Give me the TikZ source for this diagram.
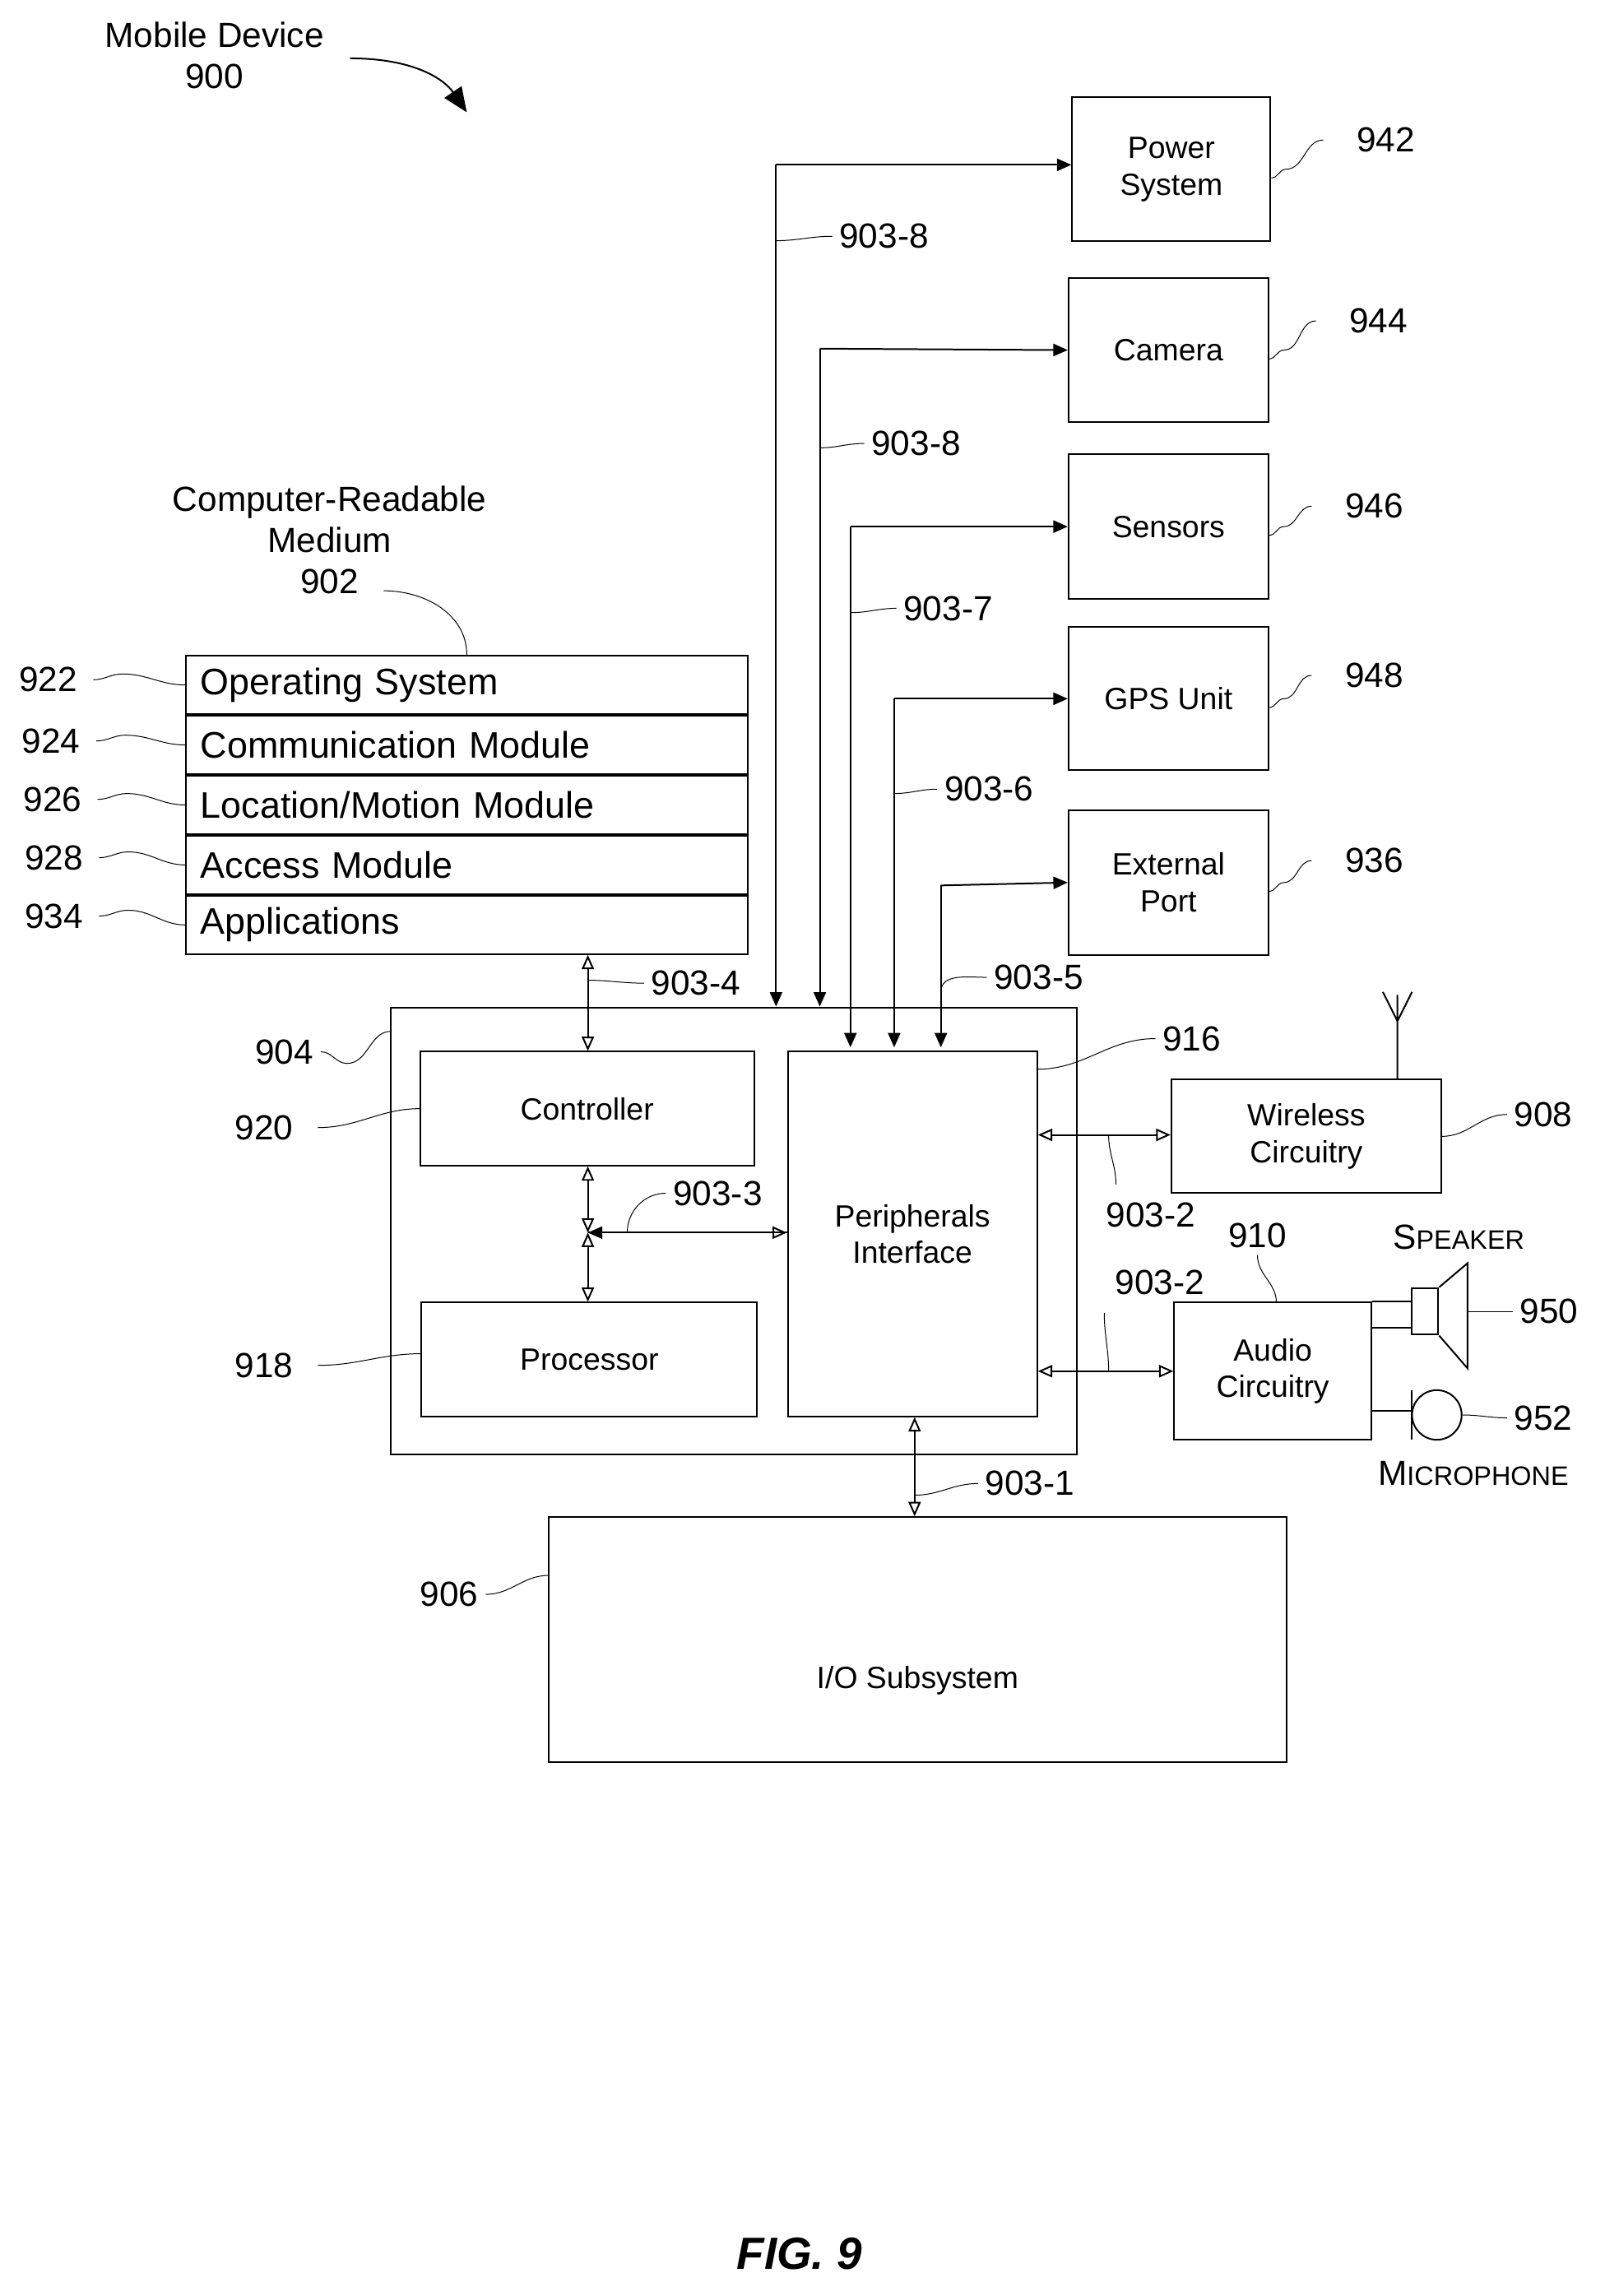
\documentclass[tikz,border=0pt]{standalone}
\usepackage{fontspec}
\setmainfont{Liberation Sans}
\usetikzlibrary{arrows.meta,positioning}
\newcommand{\pu}{0.25mm}
\tikzset{
  box/.style={draw, thick, inner sep=0pt, align=center, font=\fontsize{15}{18}\selectfont},
  row/.style={draw, thick, inner xsep=10*\pu, inner ysep=0pt, text width=365*\pu, align=left, minimum height=40*\pu, anchor=north west, font=\fontsize{18}{20}\selectfont},
  num/.style={font=\fontsize{17}{20}\selectfont, align=center},
  lead/.style={thin},
  bus/.style={thick},
  oa/.style={-{Triangle[open,length=7pt,width=6pt]}},
  boa/.style={{Triangle[open,length=7pt,width=6pt]}-{Triangle[open,length=7pt,width=6pt]}},
  fa/.style={-{Triangle[length=7pt,width=6pt]}}
}
\begin{document}
\begin{tikzpicture}[x=\pu,y=-\pu]
\useasboundingbox (0,0) rectangle (1100,1574);
% title
\node[num] (title) at (147,38) {Mobile Device\\900};
\draw[thick,-{Triangle[length=12pt,width=10pt]}] (240,40) .. controls (285,40) and (305,55) .. (320,77);
% peripherals column
\node[box, minimum width=136*\pu, minimum height=99*\pu] (power) at (803,116) {Power\\System};
\node[box, minimum width=137*\pu, minimum height=99*\pu] (camera) at (801,240) {Camera};
\node[box, minimum width=137*\pu, minimum height=99*\pu] (sensors) at (801,361) {Sensors};
\node[box, minimum width=137*\pu, minimum height=98*\pu] (gps) at (801,479) {GPS Unit};
\node[box, minimum width=137*\pu, minimum height=99*\pu] (port) at (801,605) {External\\Port};
\node[num] (n942) at (950,96) {942};
\node[num] (n944) at (945,220) {944};
\node[num] (n946) at (942,347) {946};
\node[num] (n948) at (942,463) {948};
\node[num] (n936) at (942,590) {936};
\foreach \b/\n in {power/n942,camera/n944,sensors/n946,gps/n948,port/n936}
  \draw[lead] ([yshift=-6*\pu]\b.east) to[out=0,in=180] ++(10,-6) to[out=0,in=180] ([xshift=-18*\pu]\n.west);
% main box
\node[draw, thick, minimum width=470*\pu, minimum height=306*\pu, inner sep=0pt] (dev) at (503,844) {};
\node[box, minimum width=229*\pu, minimum height=78*\pu] (ctrl) at (402.5,760) {Controller};
\node[box, minimum width=230*\pu, minimum height=78*\pu] (proc) at (404,932) {Processor};
\node[box, minimum width=171*\pu, minimum height=250*\pu] (periph) at (625.5,846) {Peripherals\\Interface};
\node[num] (n904) at (195,721) {904};
\node[num] (n920) at (181,773) {920};
\node[num] (n918) at (181,936) {918};
\node[num] (n916) at (817,712) {916};
\draw[lead] (n904.east) to[out=0,in=180] ++(18,8) to[out=0,in=180] (268,707);
\draw[lead] (n920.east) ++(12,0) to[out=0,in=180] (288,760);
\draw[lead] (n918.east) ++(12,0) to[out=0,in=180] (289,928);
\draw[lead] (711,733) to[out=0,in=180] (n916.west);
% buses to peripherals
\draw[bus,fa] (532,113) -- ([yshift=3*\pu]power.west);
\draw[bus,fa] (532,113) -- (532,690);
\draw[bus,fa] (562,239) -- (camera.west);
\draw[bus,fa] (562,239) -- (562,690);
\draw[bus,fa] (583,361) -- (sensors.west);
\draw[bus,fa] (583,361) -- (583,718);
\draw[bus,fa] (613,479) -- (gps.west);
\draw[bus,fa] (613,479) -- (613,718);
\draw[bus,fa] (645,607) -- (port.west);
\draw[bus,fa] (645,607) -- (645,718);
\node[num] (b1) at (606,162) {903-8};
\node[num] (b2) at (628,304) {903-8};
\node[num] (b3) at (650,417) {903-7};
\node[num] (b4) at (678,541) {903-6};
\node[num] (b5) at (712,670) {903-5};
\draw[lead] (532,165) to[out=0,in=180] (b1.west);
\draw[lead] (562,307) to[out=0,in=180] (b2.west);
\draw[lead] (583,420) to[out=0,in=180] (b3.west);
\draw[lead] (613,544) to[out=0,in=180] (b4.west);
\draw[lead] (645,680) to[out=90,in=180] (b5.west);
% computer readable medium
\node[num] (crm) at (226,370) {Computer-Readable\\Medium\\902};
\node[row] (os) at (127,449) {Operating System};
\node[row, below=0pt of os] (comm) {Communication Module};
\node[row, below=0pt of comm] (loc) {Location/Motion Module};
\node[row, below=0pt of loc] (acc) {Access Module};
\node[row, below=0pt of acc] (apps) {Applications};
\draw[lead] (263,405) to[out=0,in=90] (320,449);
\node[num] (n922) at (33,466) {922};
\node[num] (n924) at (35,508) {924};
\node[num] (n926) at (36,548) {926};
\node[num] (n928) at (37,588) {928};
\node[num] (n934) at (37,628) {934};
\foreach \r/\n in {os/n922,comm/n924,loc/n926,acc/n928,apps/n934}
  \draw[lead] ([xshift=6*\pu]\n.east) to[out=0,in=180] ++(20,-4) to[out=0,in=180] (\r.west);
% internal buses
\draw[bus,boa] (apps.south -| 403,0) -- (ctrl.north -| 403,0);
\node[num] (b6) at (477,674) {903-4};
\draw[lead] (403,672) to[out=0,in=180] (b6.west);
\coordinate (jn) at (403,845);
\draw[bus,boa] (ctrl.south -| 403,0) -- (jn);
\draw[bus,boa] (jn) -- (proc.north -| 403,0);
\draw[bus,fa] (periph.west |- jn) -- (jn);
\draw[bus,oa] (jn) -- (periph.west |- jn);
\node[num] (b7) at (492,818) {903-3};
\draw[lead] (430,845) to[out=90,in=180] (b7.west);
% wireless
\node[box, minimum width=185*\pu, minimum height=78*\pu] (wifi) at (895.5,779) {Wireless\\Circuitry};
\node[num] (n908) at (1058,764) {908};
\draw[lead] (wifi.east) to[out=0,in=180] (n908.west);
\draw[thick] (wifi.north -| 958,0) -- (958,682) (948,680) -- (958,700) -- (968,680);
\draw[bus,boa] (periph.east |- 0,778) -- (wifi.west |- 0,778);
\node[num] (b8) at (789,833) {903-2};
\draw[lead] (760,778) to[out=-90,in=90] (765,812);
% audio
\node[box, minimum width=135*\pu, minimum height=94*\pu] (audio) at (872.5,940) {Audio\\Circuitry};
\node[num] (n910) at (862,847) {910};
\draw[lead] (n910.south) to[out=-90,in=90] (875,893);
\draw[bus,boa] (periph.east |- 0,940) -- (audio.west |- 0,940);
\node[num] (b9) at (795,879) {903-2};
\draw[lead] (757,900) to[out=-90,in=90] (760,940);
\node[draw, thick, minimum width=18*\pu, minimum height=32*\pu, inner sep=0pt] (spk) at (977,899) {};
\draw[thick] (spk.north east) -- (1006,866) -- (1006,938) -- (spk.south east);
\draw[thick] (audio.east |- 0,892) -- (spk.west |- 0,892) (audio.east |- 0,910) -- (spk.west |- 0,910);
\node[num] (spkl) at (1000,848) {S{\fontsize{13}{16}\selectfont PEAKER}};
\node[num] (n950) at (1062,899) {950};
\draw[lead] (1006,899) to[out=0,in=180] (n950.west);
\node[draw, thick, circle, minimum size=34*\pu, inner sep=0pt] (mic) at (985,970) {};
\draw[thick] (audio.east |- 0,967) -- (968,967);
\draw[thick] (968,953) -- (968,987);
\node[num] (micl) at (1010,1010) {M{\fontsize{13}{16}\selectfont ICROPHONE}};
\node[num] (n952) at (1058,972) {952};
\draw[lead] (mic.east) to[out=0,in=180] (n952.west);
% io
\node[draw, thick, minimum width=506*\pu, minimum height=168*\pu, inner sep=0pt] (io) at (629,1124) {};
\node[box, draw=none] (iol) at (629,1152) {I/O Subsystem};
\node[num] (n906) at (308,1093) {906};
\draw[lead] (n906.east) to[out=0,in=180] (376,1080);
\draw[bus,boa] (periph.south -| 627,0) -- (io.north -| 627,0);
\node[num] (b10) at (706,1017) {903-1};
\draw[lead] (627,1025) to[out=0,in=180] (b10.west);
% figure label
\node[font=\fontsize{22}{26}\selectfont\bfseries\itshape] (fig) at (548,1545) {FIG. 9};
\end{tikzpicture}
\end{document}
